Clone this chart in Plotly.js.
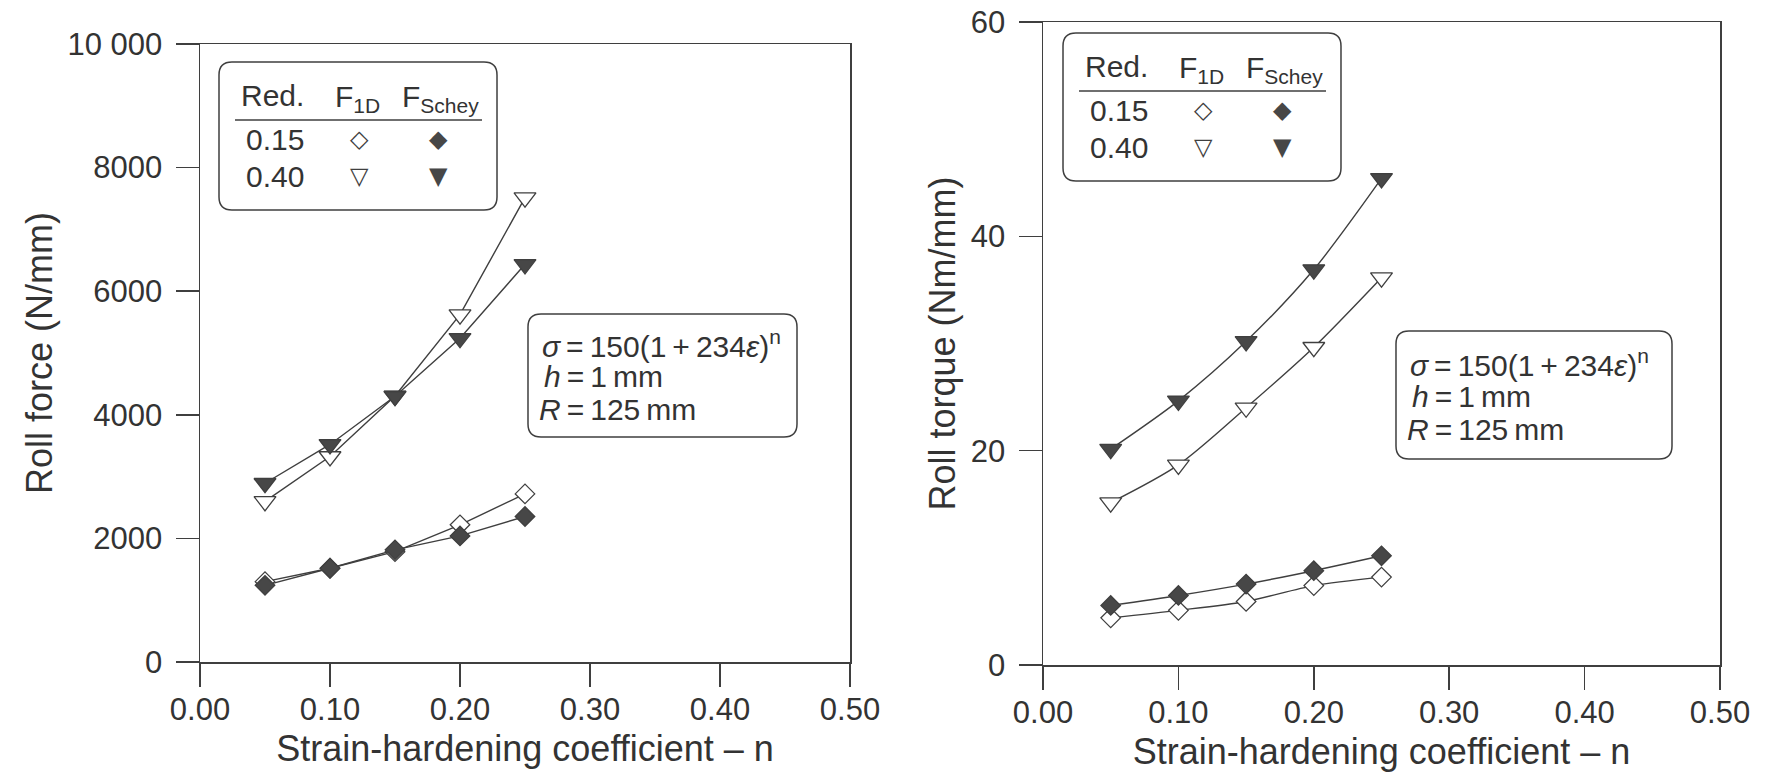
<!DOCTYPE html>
<html>
<head>
<meta charset="utf-8">
<script src="https://cdn.plot.ly/plotly-3.0.1.min.js"></script>
<style>html,body{margin:0;padding:0;background:#fff;}#chart{width:1765px;height:777px;}</style>
</head>
<body>
<div id="chart"></div>
<script>
// ---------- data ----------
const nValues = [0.05, 0.10, 0.15, 0.20, 0.25];
const forceF1D_015   = [1300, 1517, 1785, 2220, 2720];
const forceSchey_015 = [1240, 1517, 1815, 2040, 2355];
const forceF1D_040   = [2600, 3325, 4305, 5620, 7515];
const forceSchey_040 = [2892, 3520, 4300, 5238, 6435];
const torqueF1D_015   = [4.40, 5.10, 5.93, 7.41, 8.20];
const torqueSchey_015 = [5.56, 6.49, 7.55, 8.80, 10.19];
const torqueF1D_040   = [15.15, 18.67, 24.0, 29.65, 36.14];
const torqueSchey_040 = [20.15, 24.65, 30.2, 36.9, 45.4];
const xTickVals = [0, 0.1, 0.2, 0.3, 0.4, 0.5];
const xTickText = ['0.00', '0.10', '0.20', '0.30', '0.40', '0.50'];
const forceTickVals = [0, 2000, 4000, 6000, 8000, 10000];
const forceTickText = ['0', '2000', '4000', '6000', '8000', '10 000'];
const torqueTickVals = [0, 20, 40, 60];
const torqueTickText = ['0', '20', '40', '60'];
const legendRows = ['0.15', '0.40'];
const formulaLines = ['<i>σ</i>\u2009=\u2009150(1\u2009+\u2009234<i>ε</i>)<sup>n</sup>', '<i>h</i>\u2009=\u20091\u2009mm', '<i>R</i>\u2009=\u2009125\u2009mm'];

// ---------- style ----------
const W = 1765, H = 777;
const INK = '#3f3f3f';
const TXT = '#333333';
const FONT = 'Liberation Sans, Arial, Helvetica, sans-serif';
const px = v => v / W;
const py = v => 1 - v / H;

function series(x, y, xa, ya, symbol, filled, shape) {
  return {
    x: x, y: y, xaxis: xa, yaxis: ya, type: 'scatter', mode: 'lines+markers',
    line: {color: INK, width: 1.4, shape: shape, smoothing: 0.8},
    marker: {symbol: symbol, size: symbol.indexOf('triangle') === 0 ? 19 : 15,
             color: filled ? '#474747' : '#ffffff',
             line: {color: INK, width: 1.3}},
    showlegend: false, hoverinfo: 'x+y'
  };
}

const data = [
  series(nValues, forceF1D_015, 'x', 'y', 'diamond', false, 'linear'),
  series(nValues, forceF1D_040, 'x', 'y', 'triangle-down', false, 'linear'),
  series(nValues, forceSchey_015, 'x', 'y', 'diamond', true, 'linear'),
  series(nValues, forceSchey_040, 'x', 'y', 'triangle-down', true, 'linear'),
  series(nValues, torqueF1D_015, 'x2', 'y2', 'diamond', false, 'spline'),
  series(nValues, torqueF1D_040, 'x2', 'y2', 'triangle-down', false, 'spline'),
  series(nValues, torqueSchey_015, 'x2', 'y2', 'diamond', true, 'spline'),
  series(nValues, torqueSchey_040, 'x2', 'y2', 'triangle-down', true, 'spline')
];

// plot areas in pixels
const L = {x0: 200, x1: 850, y0: 44, y1: 662};
const R = {x0: 1043, x1: 1720, y0: 22, y1: 665};

function axisBase() {
  return {
    showgrid: false, zeroline: false, showline: true, mirror: true,
    linecolor: INK, linewidth: 1.5, ticks: 'outside', ticklen: 23, tickwidth: 1.5,
    tickcolor: INK, tickfont: {family: FONT, size: 31, color: TXT}, fixedrange: true
  };
}

const TFONT = {family: FONT, size: 36, color: TXT};
const xTitle = {text: 'Strain-hardening coefficient – n', font: TFONT, standoff: 10};

const layout = {
  width: W, height: H, margin: {l: 0, r: 0, t: 0, b: 0},
  paper_bgcolor: '#ffffff', plot_bgcolor: '#ffffff',
  font: {family: FONT, color: TXT},
  showlegend: false,
  xaxis: Object.assign(axisBase(), {domain: [px(L.x0), px(L.x1)], range: [0, 0.5], anchor: 'y',
    tickvals: xTickVals, ticktext: xTickText, ticklabelstandoff: -4, title: xTitle}),
  yaxis: Object.assign(axisBase(), {domain: [py(L.y1), py(L.y0)], range: [0, 10000], anchor: 'x',
    tickvals: forceTickVals, ticktext: forceTickText, ticklabelstandoff: 7,
    title: {text: 'Roll force (N/mm)', font: TFONT, standoff: 4}}),
  xaxis2: Object.assign(axisBase(), {domain: [px(R.x0), px(R.x1)], range: [0, 0.5], anchor: 'y2',
    tickvals: xTickVals, ticktext: xTickText, ticklabelstandoff: -4, title: xTitle}),
  yaxis2: Object.assign(axisBase(), {domain: [py(R.y1), py(R.y0)], range: [0, 60], anchor: 'x2',
    tickvals: torqueTickVals, ticktext: torqueTickText, ticklabelstandoff: 7,
    title: {text: 'Roll torque (Nm/mm)', font: TFONT, standoff: 4}}),
  shapes: [], annotations: []
};

function roundRect(x0, y0, x1, y1, r) {
  const P = (a, b) => px(a).toFixed(5) + ',' + py(b).toFixed(5);
  const path = 'M' + P(x0 + r, y0) + ' L' + P(x1 - r, y0) + ' Q' + P(x1, y0) + ' ' + P(x1, y0 + r) +
    ' L' + P(x1, y1 - r) + ' Q' + P(x1, y1) + ' ' + P(x1 - r, y1) +
    ' L' + P(x0 + r, y1) + ' Q' + P(x0, y1) + ' ' + P(x0, y1 - r) +
    ' L' + P(x0, y0 + r) + ' Q' + P(x0, y0) + ' ' + P(x0 + r, y0) + ' Z';
  layout.shapes.push({type: 'path', xref: 'paper', yref: 'paper', path: path,
    line: {color: INK, width: 1.5}, fillcolor: 'rgba(255,255,255,1)', layer: 'above'});
}

function text(t, x, y, anchor, size, family, color) {
  layout.annotations.push({text: t, x: px(x), y: py(y), xref: 'paper', yref: 'paper',
    xanchor: anchor, yanchor: 'middle', showarrow: false,
    font: {family: family || FONT, size: size || 31, color: color || TXT}});
}

function legendBox(bx, by) {
  const w = 278, h = 148;
  roundRect(bx, by, bx + w, by + h, 13);
  text('Red.', bx + 20, by + 34, 'left', 30);
  text('F<sub>1D</sub>', bx + 138, by + 36, 'center', 30);
  text('F<sub>Schey</sub>', bx + 221, by + 36, 'center', 30);
  layout.shapes.push({type: 'line', xref: 'paper', yref: 'paper',
    x0: px(bx + 16), x1: px(bx + 263), y0: py(by + 58), y1: py(by + 58),
    line: {color: INK, width: 1.6}, layer: 'above'});
  text(legendRows[0], bx + 25, by + 77, 'left', 30);
  text(legendRows[1], bx + 25, by + 114, 'left', 30);
  text('◇', bx + 140, by + 77, 'center', 24, 'DejaVu Sans', INK);
  text('◆', bx + 219, by + 77, 'center', 24, 'DejaVu Sans', '#474747');
  text('▽', bx + 140, by + 114, 'center', 24, 'DejaVu Sans', INK);
  text('▼', bx + 219, by + 114, 'center', 24, 'DejaVu Sans', '#474747');
}

function formulaBox(bx0, by0, bx1, by1, gap) {
  roundRect(bx0, by0, bx1, by1, 13);
  const cy = (by0 + by1) / 2 + 1;
  text(formulaLines[0], bx0 + 12, cy - gap, 'left', 30);
  text(formulaLines[1], bx0 + 14, cy, 'left', 30);
  text(formulaLines[2], bx0 + 9, cy + gap, 'left', 30);
}

legendBox(219, 62);
legendBox(1063, 33);
formulaBox(528, 314, 797, 437, 33);
formulaBox(1396, 331, 1672, 459, 33);

Plotly.newPlot('chart', data, layout, {staticPlot: true, displayModeBar: false});
</script>
</body>
</html>
